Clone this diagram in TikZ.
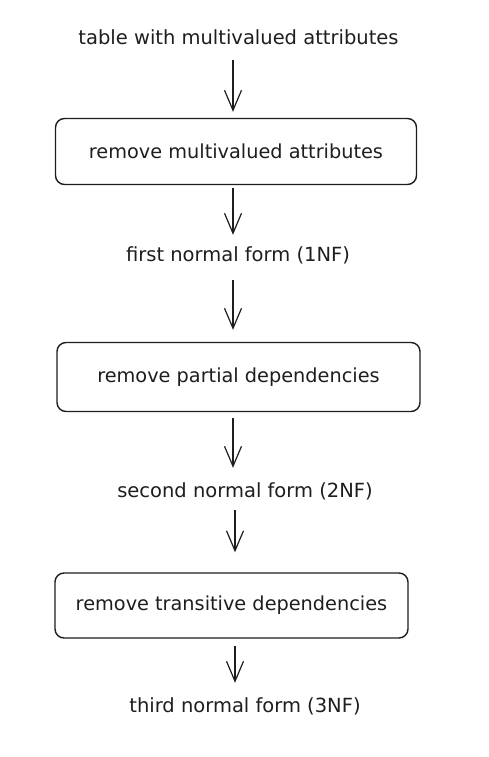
\documentclass[tikz,border=0pt]{standalone}
\usepackage{fontspec}
\setmainfont{DejaVu Sans}
\usetikzlibrary{arrows.meta}
\definecolor{ink}{HTML}{1E1E1E}
\tikzset{
  lbl/.style={inner sep=0pt, text height=13pt, text depth=4pt, font=\fontsize{19.5}{23}\selectfont, text=ink},
  boxnode/.style={draw=ink, line width=1.4pt, rounded corners=9pt, inner sep=0pt, font=\fontsize{19.3}{23}\selectfont, text=ink},
  arr/.style={draw=ink, line width=1.2pt, -{Straight Barb[length=20pt,width=17pt,line width=1.2pt]}}
}
\begin{document}
\begin{tikzpicture}[x=1pt,y=-1pt]
\useasboundingbox[fill=white] (0,0) rectangle (489,757);
\node[lbl] (t0) at (238.5,40) {table with multivalued attributes};
\node[boxnode, minimum width=361pt, minimum height=66pt] (b1) at (236,151.5) {remove multivalued attributes};
\node[lbl] (t1) at (238,257) {first normal form (1NF)};
\node[boxnode, minimum width=363pt, minimum height=69pt] (b2) at (238.5,377) {remove partial dependencies};
\node[lbl] (t2) at (245,493) {second normal form (2NF)};
\node[boxnode, minimum width=353pt, minimum height=65pt] (b3) at (231.5,605.5) {remove transitive dependencies};
\node[lbl] (t3) at (245,708) {third normal form (3NF)};
\coordinate (ax1) at (233,0);
\coordinate (ax2) at (235,0);
\draw[arr, shorten <=11.5pt, shorten >=6pt] (t0.south -| ax1) -- (b1.north -| ax1);
\draw[arr, shorten <=3pt, shorten >=13.5pt] (b1.south -| ax1) -- (t1.north -| ax1);
\draw[arr, shorten <=14.5pt, shorten >=12pt] (t1.south -| ax1) -- (b2.north -| ax1);
\draw[arr, shorten <=6pt, shorten >=16.5pt] (b2.south -| ax1) -- (t2.north -| ax1);
\draw[arr, shorten <=8.5pt, shorten >=20pt] (t2.south -| ax2) -- (b3.north -| ax2);
\draw[arr, shorten <=7pt, shorten >=16.5pt] (b3.south -| ax2) -- (t3.north -| ax2);
\end{tikzpicture}
\end{document}
